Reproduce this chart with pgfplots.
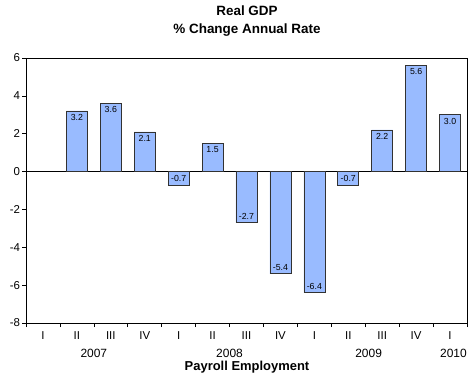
\documentclass[border=0pt]{standalone}
\usepackage{pgfplots}
\pgfplotsset{compat=1.18}
\usepackage{fontspec}
\setmainfont{Liberation Sans}
\definecolor{barfill}{RGB}{153,187,255}
\definecolor{baredge}{RGB}{50,50,50}

% Quarterly real GDP growth, % change at annual rate (position = quarter index + 0.5)
\pgfplotstableread{
x    y
1.5  3.2
2.5  3.6
3.5  2.1
5.5  1.5
10.5 2.2
11.5 5.6
12.5 3.0
}\positive
\pgfplotstableread{
x    y
4.5  -0.7
6.5  -2.7
7.5  -5.4
8.5  -6.4
9.5  -0.7
}\negative

\begin{document}
\begin{tikzpicture}[x=1bp,y=1bp]
\begin{axis}[
  at={(26bp,50bp)}, anchor=south west,
  scale only axis, width=441bp, height=265bp,
  xmin=0, xmax=13, ymin=-8, ymax=6,
  ytick={-8,-6,...,6},
  xtick={0.5,1.5,...,12.5},
  xticklabels={I,II,III,IV,I,II,III,IV,I,II,III,IV,I},
  minor xtick={0,1,...,13},
  major x tick style={draw=none},
  minor tick length=4bp,
  major tick length=4bp,
  tick align=outside,
  axis line style={line width=0.8pt},
  tick style={black, line width=0.6pt},
  xtick pos=bottom, ytick pos=left,
  tick label style={font=\fontsize{11.5}{12}\selectfont},
  xticklabel style={yshift=-1bp},
  yticklabel style={xshift=1.5bp},
  /pgf/number format/assume math mode=true,
  ybar, bar width=0.62, bar shift=0pt,
  clip=false,
  extra y ticks={0}, extra y tick labels={},
  extra y tick style={grid=major, major grid style={black, line width=0.6pt}},
]
\addplot[fill=barfill, draw=baredge, line width=0.6pt,
  nodes near coords,
  nodes near coords style={anchor=north, yshift=-1bp, inner sep=2bp, font=\fontsize{8.8}{9}\selectfont,
    /pgf/number format/.cd, fixed, fixed zerofill, precision=1, assume math mode=true}]
  table[x=x,y=y]{\positive};
\addplot[fill=barfill, draw=baredge, line width=0.6pt,
  nodes near coords,
  nodes near coords style={anchor=south, yshift=1bp, inner sep=2bp, font=\fontsize{8.8}{9}\selectfont,
    /pgf/number format/.cd, fixed, fixed zerofill, precision=1, assume math mode=true}]
  table[x=x,y=y]{\negative};
% year labels beneath the quarter labels
\node[font=\fontsize{12}{13}\selectfont] at (axis cs:2,-8) [yshift=-30bp] {2007};
\node[font=\fontsize{12}{13}\selectfont] at (axis cs:6,-8) [yshift=-30bp] {2008};
\node[font=\fontsize{12}{13}\selectfont] at (axis cs:10.1,-8) [yshift=-30bp] {2009};
\node[font=\fontsize{12}{13}\selectfont] at (axis cs:12.6,-8) [yshift=-30bp] {2010};
\end{axis}
% titles
\node[font=\bfseries\fontsize{13.5}{18}\selectfont, align=center] at (247bp,352bp)
  {Real GDP\\\% Change Annual Rate};
\node[font=\bfseries\fontsize{13}{14}\selectfont, anchor=base] at (247bp,2.8bp) {Payroll Employment};
\pgfresetboundingbox
\useasboundingbox (0,0) rectangle (469bp,373bp);
\end{tikzpicture}
\end{document}
